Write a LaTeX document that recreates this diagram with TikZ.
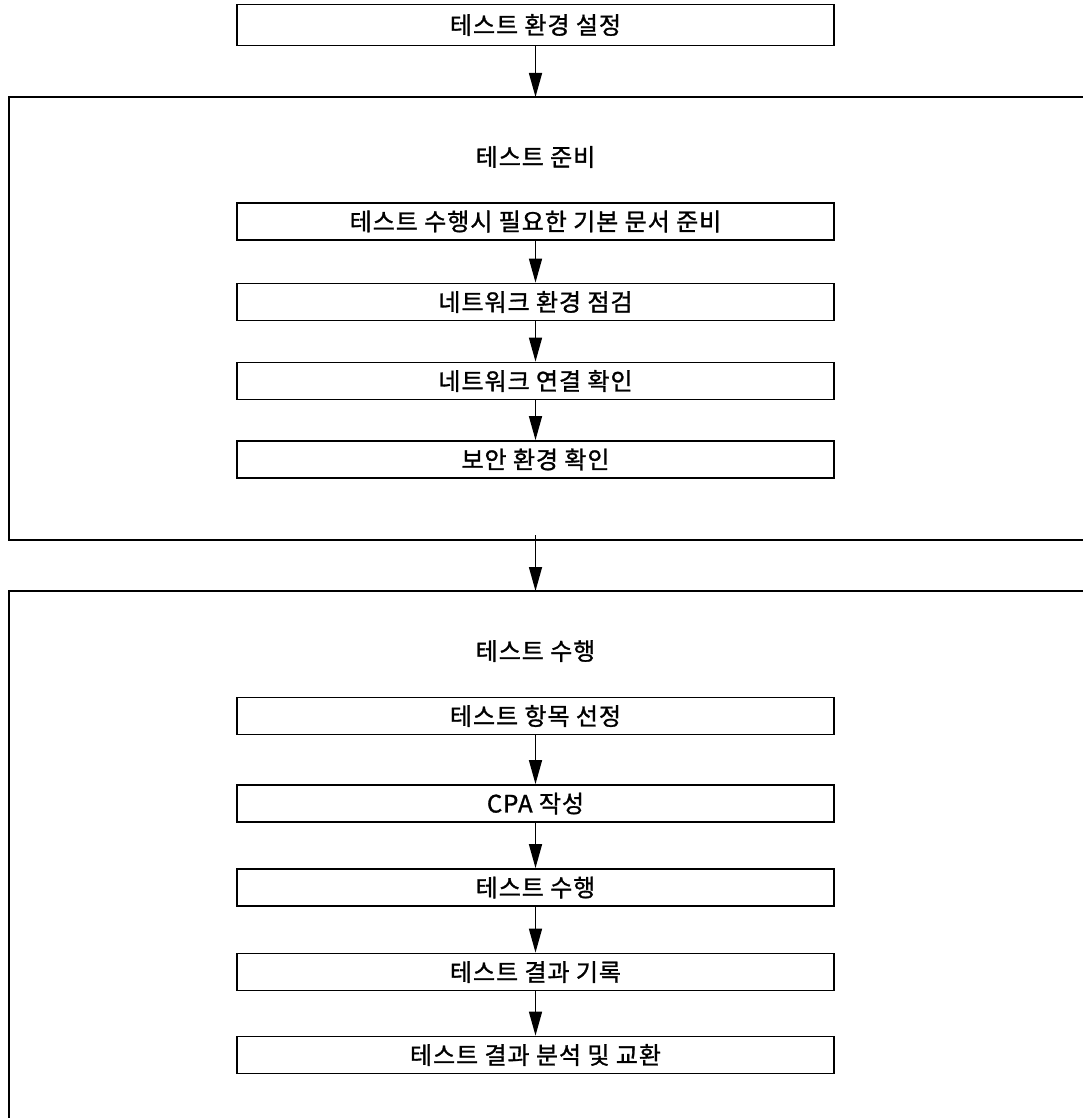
\documentclass[tikz,border=0pt]{standalone}
\usepackage{fontspec}
\setmainfont{Noto Sans CJK KR}[FakeBold=1.2,LetterSpace=4]
\usetikzlibrary{arrows.meta}
\begin{document}
\begin{tikzpicture}[x=1pt,y=-1pt,
  stepbox/.style={draw,line width=1.8pt,minimum width=597pt,minimum height=37pt,inner sep=0pt,font=\fontsize{24}{28}\selectfont},
  titletext/.style={font=\fontsize{24}{28}\selectfont,inner sep=0pt},
  frame/.style={line width=2.2pt},
  flow/.style={line width=1.5pt,-{Triangle[length=24pt,width=13pt]}}]
\useasboundingbox (0,0) rectangle (1083,1118);
\fill[white] (0,0) rectangle (1083,1118);
% top box
\node[stepbox,minimum height=41pt] (env) at (535.5,25) {테스트 환경 설정};
% container 1
\coordinate (c1top) at (535.5,97);
\coordinate (c1bot) at (535.5,540);
\draw[frame] (1084,97) -- (9,97) -- (9,540) -- (1084,540);
\node[titletext] (t1) at (535.5,157) {테스트 준비};
\node[stepbox] (a1) at (535.5,221.5) {테스트 수행시 필요한 기본 문서 준비};
\node[stepbox] (a2) at (535.5,302) {네트워크 환경 점검};
\node[stepbox] (a3) at (535.5,381) {네트워크 연결 확인};
\node[stepbox] (a4) at (535.5,459.5) {보안 환경 확인};
% container 2
\coordinate (c2top) at (535.5,591);
\draw[frame] (1084,591) -- (9,591) -- (9,1119);
\node[titletext] (t2) at (535.5,651) {테스트 수행};
\node[stepbox] (b1) at (535.5,716) {테스트 항목 선정};
\node[stepbox] (b2) at (535.5,803.5) {CPA 작성};
\node[stepbox] (b3) at (535.5,887.5) {테스트 수행};
\node[stepbox] (b4) at (535.5,972) {테스트 결과 기록};
\node[stepbox] (b5) at (535.5,1055) {테스트 결과 분석 및 교환};
% arrows
\draw[flow] (env.south) -- (c1top);
\draw[flow] (a1) -- (a2);
\draw[flow] (a2) -- (a3);
\draw[flow] (a3) -- (a4);
\draw[flow] ([yshift=5pt]c1bot) -- (c2top);
\draw[flow] (b1) -- (b2);
\draw[flow] (b2) -- (b3);
\draw[flow] (b3) -- (b4);
\draw[flow] (b4) -- (b5);
\end{tikzpicture}
\end{document}
